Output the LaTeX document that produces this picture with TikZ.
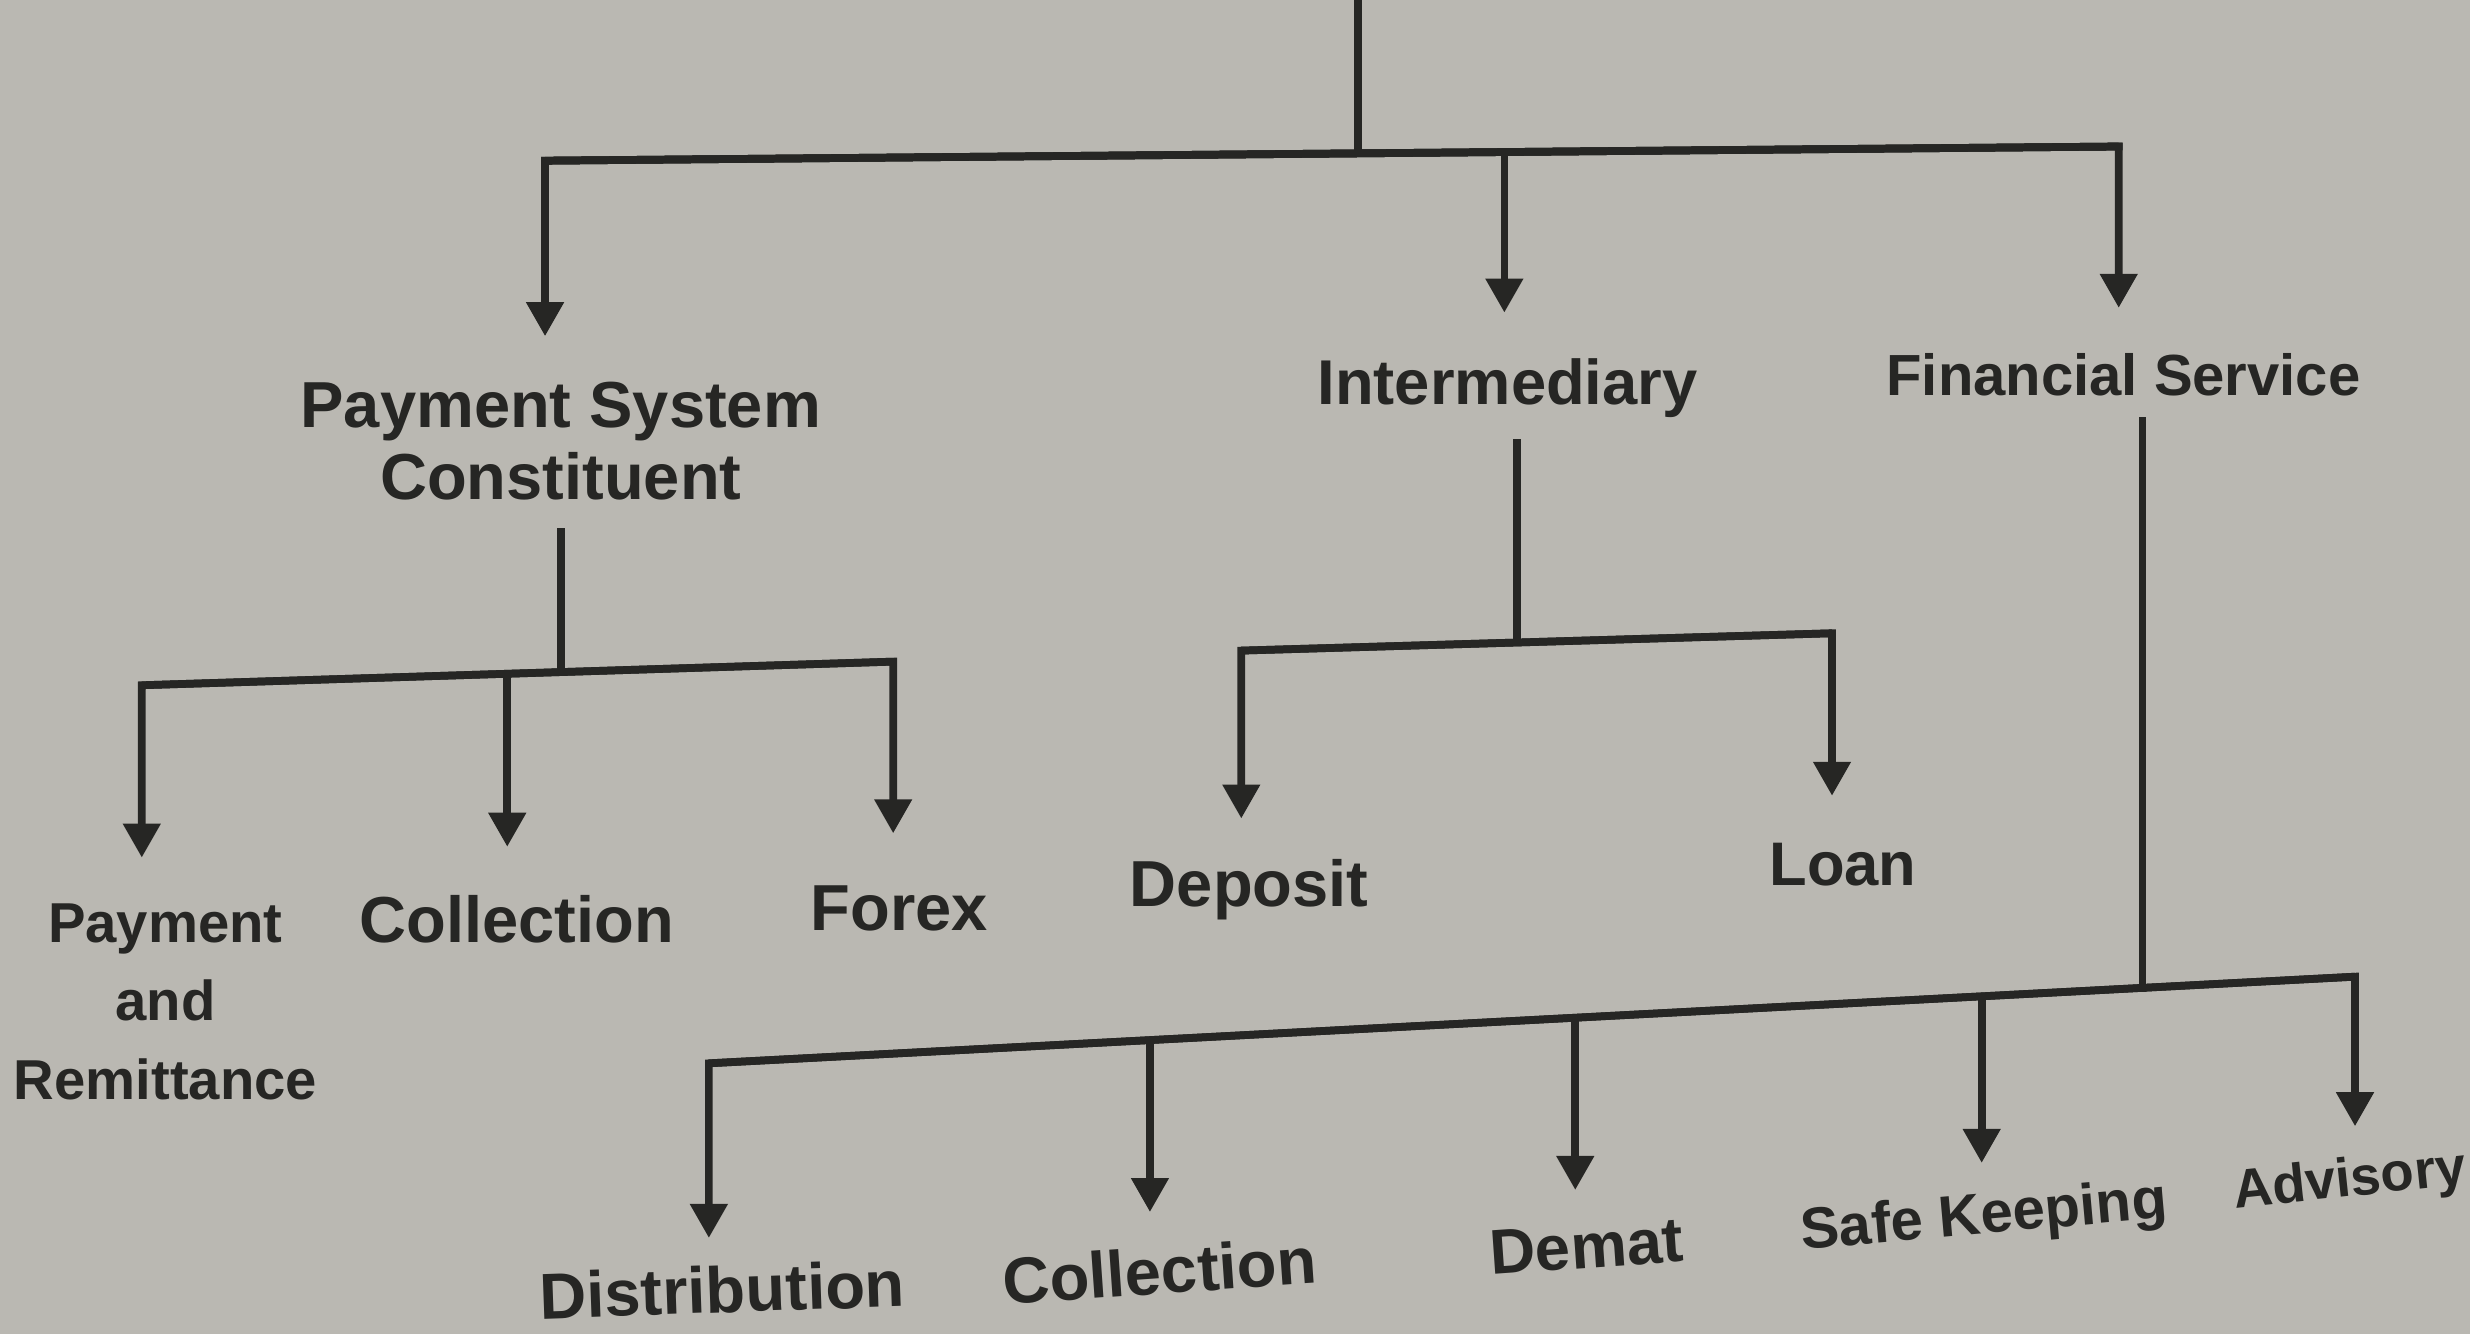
\documentclass[tikz,border=0pt]{standalone}
\usepackage{fontspec}
\setmainfont{Liberation Sans}
\usetikzlibrary{arrows.meta}
\definecolor{paper}{RGB}{186,184,178}
\definecolor{ink}{RGB}{38,38,36}
\begin{document}
\begin{tikzpicture}[x=0.015753cm,y=-0.015753cm,
  line/.style={draw=ink,line width=2.2pt,line cap=rect},
  arr/.style={line,line cap=butt,-{Triangle[width=0.36cm,length=0.34cm]},shorten >=0.45cm},
  arrlow/.style={arr,shorten >=0.34cm},
  lab/.style={anchor=north,inner sep=0pt,text=ink,font=\bfseries\fontsize{18.5pt}{20.6pt}\selectfont,align=center}]
\path[use as bounding box,fill=paper] (0,0) rectangle (1568,847);

% labels
\node[lab] (ps) at (356,242) {Payment System\\Constituent};
\node[lab,font=\bfseries\fontsize{18pt}{20pt}\selectfont] (inter) at (957,227) {Intermediary};
\node[lab,font=\bfseries\fontsize{16.5pt}{19pt}\selectfont] (fin) at (1348,224) {Financial Service};

\node[lab,font=\bfseries\fontsize{16pt}{22.4pt}\selectfont] (pr) at (105,573) {Payment\\and\\Remittance};
\node[lab] (col1) at (328,568) {Collection};
\node[lab] (forex) at (571,562) {Forex};
\node[lab] (dep) at (793,545) {Deposit};
\node[lab,font=\bfseries\fontsize{17.5pt}{20pt}\selectfont] (loan) at (1170,535) {Loan};

\node[lab,rotate=2] (dist) at (458,803) {Distribution};
\node[lab,rotate=4] (col2) at (735,791) {Collection};
\node[lab,rotate=4,font=\bfseries\fontsize{18pt}{20pt}\selectfont] (demat) at (1006,777) {Demat};
\node[lab,rotate=5,font=\bfseries\fontsize{16.5pt}{19pt}\selectfont] (safe) at (1258,756) {Safe Keeping};
\node[lab,rotate=6,font=\bfseries\fontsize{15.5pt}{18pt}\selectfont] (adv) at (1490,734) {Advisory};

% junctions
\coordinate (top) at (862,0);
\coordinate (j0) at (862,97.4);
\coordinate (h1l) at (346,102);
\coordinate (h1m) at (955,96.5);
\coordinate (h1r) at (1345,93);

\coordinate (jp) at (356,426.6);
\coordinate (h2l) at (90,435);
\coordinate (h2m) at (322,427.7);
\coordinate (h2r) at (567,420);

\coordinate (ji) at (963,407.5);
\coordinate (h3l) at (788,413);
\coordinate (h3r) at (1163,402);

\coordinate (jf) at (1360,627.1);
\coordinate (h4a) at (450,675);
\coordinate (h4b) at (730,660.3);
\coordinate (h4c) at (1000,646.1);
\coordinate (h4d) at (1258,632.6);
\coordinate (h4e) at (1495,620);

% level 1
\draw[line] (top) -- (j0);
\draw[line] (h1l) -- (h1r);
\draw[arr] (h1r) -- (h1l) -- (h1l |- ps.north);
\draw[arr] (h1m) -- (h1m |- inter.north);
\draw[arr] (h1l) -- (h1r) -- (h1r |- fin.north);

% payment system branch
\draw[line,shorten <=0.31cm] (ps.south -| jp) -- (jp);
\draw[arr] (h2r) -- (h2l) -- (h2l |- pr.north);
\draw[arr,shorten >=0.48cm] (h2m) -- (h2m |- col1.north);
\draw[arr,shorten >=0.52cm] (h2l) -- (h2r) -- (h2r |- forex.north);

% intermediary branch
\draw[line,shorten <=0.25cm] (inter.south -| ji) -- (ji);
\draw[arr,shorten >=0.4cm] (h3r) -- (h3l) -- (h3l |- dep.north);
\draw[arr,shorten >=0.47cm] (h3l) -- (h3r) -- (h3r |- loan.north);

% financial service branch
\draw[line,shorten <=0.24cm] (fin.south -| jf) -- (jf);
\draw[arrlow,shorten >=0.27cm] (h4e) -- (h4a) -- (h4a |- dist.north);
\draw[arrlow] (h4b) -- (h4b |- col2.north);
\draw[arrlow] (h4c) -- (h4c |- demat.north);
\draw[arrlow,shorten >=0.28cm] (h4d) -- (h4d |- safe.north);
\draw[arrlow,shorten >=0.3cm] (h4a) -- (h4e) -- (h4e |- adv.north);
\end{tikzpicture}
\end{document}
